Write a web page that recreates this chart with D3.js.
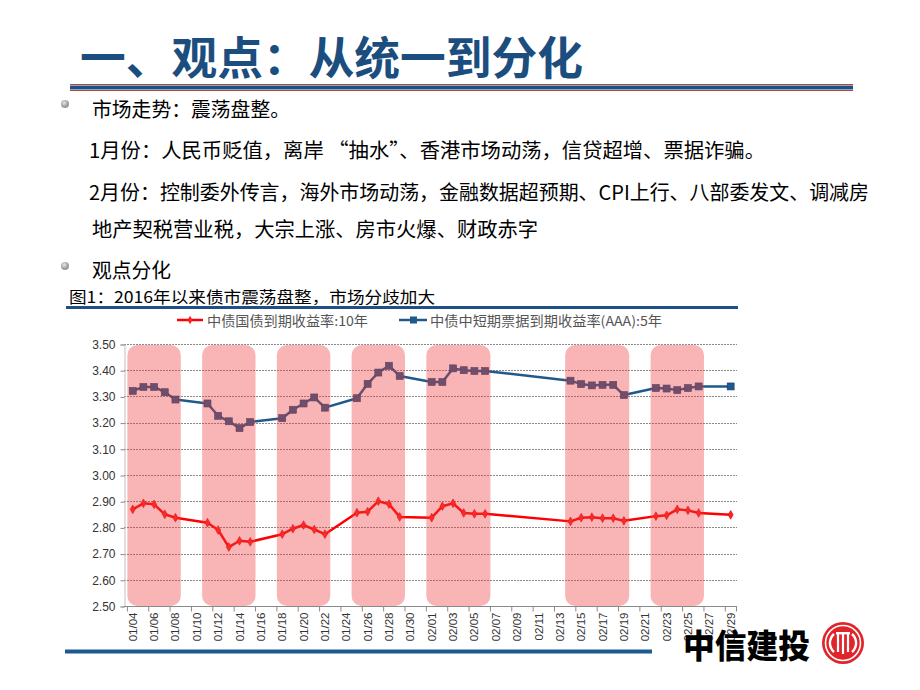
<!DOCTYPE html>
<html><head><meta charset="utf-8">
<script src="https://cdn.jsdelivr.net/npm/d3@7/dist/d3.min.js"></script>
<style>body{margin:0;background:#fff}svg{display:block}</style>
</head><body>
<svg id="c" width="920" height="690"></svg>
<script>
// ---------------- data ----------------
const titleText = "一、观点：从统一到分化";
const bullet1 = "市场走势：震荡盘整。";
const lineJan = "1月份：人民币贬值，离岸 “抽水”、香港市场动荡，信贷超增、票据诈骗。";
const lineFeb1 = "2月份：控制委外传言，海外市场动荡，金融数据超预期、CPI上行、八部委发文、调减房";
const lineFeb2 = "地产契税营业税，大宗上涨、房市火爆、财政赤字";
const bullet2 = "观点分化";
const captionText = "图1：2016年以来债市震荡盘整，市场分歧加大";
const seriesNames = ["中债国债到期收益率:10年", "中债中短期票据到期收益率(AAA):5年"];
const logoText = "中信建投";

const tradeDates = [
  "2016-01-04","2016-01-05","2016-01-06","2016-01-07","2016-01-08",
  "2016-01-11","2016-01-12","2016-01-13","2016-01-14","2016-01-15",
  "2016-01-18","2016-01-19","2016-01-20","2016-01-21","2016-01-22",
  "2016-01-25","2016-01-26","2016-01-27","2016-01-28","2016-01-29",
  "2016-02-01","2016-02-02","2016-02-03","2016-02-04","2016-02-05","2016-02-06",
  "2016-02-14","2016-02-15","2016-02-16","2016-02-17","2016-02-18","2016-02-19",
  "2016-02-22","2016-02-23","2016-02-24","2016-02-25","2016-02-26",
  "2016-02-29"
];
const yield10y = [
  2.869, 2.892, 2.888, 2.850, 2.837,
  2.818, 2.790, 2.725, 2.749, 2.745,
  2.774, 2.795, 2.809, 2.792, 2.774,
  2.856, 2.860, 2.900, 2.889, 2.840,
  2.837, 2.881, 2.892, 2.855, 2.852, 2.852,
  2.823, 2.837, 2.839, 2.835, 2.835, 2.825,
  2.843, 2.846, 2.869, 2.865, 2.855,
  2.848
];
const yieldMtn5y = [
  3.321, 3.336, 3.336, 3.316, 3.288,
  3.273, 3.226, 3.205, 3.179, 3.202,
  3.217, 3.249, 3.273, 3.296, 3.257,
  3.293, 3.348, 3.391, 3.417, 3.378,
  3.355, 3.355, 3.407, 3.400, 3.397, 3.397,
  3.360, 3.347, 3.342, 3.344, 3.344, 3.305,
  3.332, 3.330, 3.324, 3.332, 3.338,
  3.338
];
const yTicks = [2.50, 2.60, 2.70, 2.80, 2.90, 3.00, 3.10, 3.20, 3.30, 3.40, 3.50];
const axisStart = "2016-01-04", axisEnd = "2016-02-29";
const highlightWeeks = [
  ["2016-01-04","2016-01-08"], ["2016-01-11","2016-01-15"], ["2016-01-18","2016-01-22"],
  ["2016-01-25","2016-01-29"], ["2016-02-01","2016-02-06"], ["2016-02-14","2016-02-19"],
  ["2016-02-22","2016-02-26"]
];

// ---------------- drawing ----------------
const svg = d3.select("#c");
const CJK = "'Noto Sans CJK SC','Noto Sans',sans-serif";
const LAT = "'Liberation Sans',Arial,sans-serif";
svg.append("rect").attr("width",920).attr("height",690).attr("fill","#fff");

// title
svg.append("text").attr("x",80).attr("y",55).attr("dominant-baseline","central")
  .attr("font-family",CJK).attr("font-weight",700).attr("font-size",45)
  .attr("fill","#1b4e7e").attr("textLength",503).attr("lengthAdjust","spacingAndGlyphs")
  .text(titleText);
// separator
svg.append("line").attr("x1",70).attr("x2",853).attr("y1",84.5).attr("y2",84.5).attr("stroke","#b0463c").attr("stroke-width",1);
svg.append("line").attr("x1",70).attr("x2",853).attr("y1",87.5).attr("y2",87.5).attr("stroke","#1b5186").attr("stroke-width",4);
svg.append("line").attr("x1",70).attr("x2",853).attr("y1",90.5).attr("y2",90.5).attr("stroke","#b0463c").attr("stroke-width",1);

// bullets
const grad = svg.append("defs").append("radialGradient").attr("id","bg").attr("cx","40%").attr("cy","35%");
grad.append("stop").attr("offset","0%").attr("stop-color","#e8e8e8");
grad.append("stop").attr("offset","100%").attr("stop-color","#9a9a9a");
[[65,104],[65,266]].forEach(p=>svg.append("circle").attr("cx",p[0]).attr("cy",p[1]).attr("r",4).attr("fill","url(#bg)"));

const body = [
  {t:bullet1, x:92, y:108, w:198},
  {t:lineJan, x:89, y:149, w:676},
  {t:lineFeb1, x:89, y:191, w:780},
  {t:lineFeb2, x:92, y:228, w:446},
  {t:bullet2, x:92, y:269, w:79}
];
body.forEach(b=>svg.append("text").attr("x",b.x).attr("y",b.y).attr("dominant-baseline","central")
  .attr("font-family",CJK).attr("font-size",20).attr("fill","#000")
  .attr("textLength",b.w).attr("lengthAdjust","spacingAndGlyphs").text(b.t));

// caption
svg.append("text").attr("x",69).attr("y",295.5).attr("dominant-baseline","central")
  .attr("font-family",CJK).attr("font-size",16).attr("fill","#000")
  .attr("textLength",366).attr("lengthAdjust","spacingAndGlyphs").text(captionText);
svg.append("line").attr("x1",66).attr("x2",738).attr("y1",307.5).attr("y2",307.5).attr("stroke","#1e4f86").attr("stroke-width",3);

// scales
const parse = d3.timeParse("%Y-%m-%d");
const key = d3.timeFormat("%Y-%m-%d");
const lab = d3.timeFormat("%m/%d");
const days = d3.timeDay.range(parse(axisStart), d3.timeDay.offset(parse(axisEnd),1));
const x = d3.scaleBand().domain(days.map(key)).range([127.4, 736]).padding(0);
const bw = x.bandwidth();
const y = d3.scaleLinear().domain([2.5, 3.5]).range([606, 344]);
const plotL = 124, plotR = 737;

// gridlines
const g = svg.append("g");
g.selectAll("line.grid").data(yTicks.slice(1)).join("line")
  .attr("x1",plotL).attr("x2",plotR).attr("y1",d=>Math.round(y(d))+0.5).attr("y2",d=>Math.round(y(d))+0.5)
  .attr("stroke","#8a8a8a").attr("stroke-width",1).attr("stroke-dasharray","2,1");

// y axis
const yAxis = d3.axisLeft(y).tickValues(yTicks).tickFormat(d3.format(".2f")).tickSize(4).tickPadding(5);
const ya = svg.append("g").attr("transform",`translate(${plotL+0.5},0.5)`).call(yAxis);
ya.select(".domain").attr("stroke","#c0c0c0");
ya.selectAll(".tick line").attr("stroke","#8a8a8a");
ya.selectAll("text").attr("font-family",LAT).attr("font-size",12).attr("fill","#333");

// x axis
const labelDays = days.filter((d,i)=>i%2===0).map(key);
const xAxis = d3.axisBottom(x).tickValues(labelDays).tickFormat(k=>lab(parse(k))).tickSize(0);
const xa = svg.append("g").attr("transform",`translate(0,${Math.round(y(2.5))+0.5})`).call(xAxis);
xa.select(".domain").remove();
xa.append("line").attr("x1",plotL).attr("x2",plotR).attr("stroke","#8a8a8a");
xa.selectAll(".tick text").attr("font-family",LAT).attr("font-size",11.5).attr("fill","#333")
  .attr("transform","translate(0,6) rotate(-90)").attr("text-anchor","end").attr("dy","0.35em").attr("x",0).attr("y",0);
xa.selectAll(".tick").append("line").attr("x1",-bw/2).attr("x2",-bw/2).attr("y1",0).attr("y2",5).attr("stroke","#8a8a8a");
xa.append("line").attr("x1",plotR-0.5).attr("x2",plotR-0.5).attr("y1",0).attr("y2",5).attr("stroke","#8a8a8a");

// series
const cx = k => x(k) + bw/2;
const red = "#ff0000", blue = "#1f5a8c";
const line = vals => d3.line().x((d,i)=>cx(tradeDates[i])).y(d=>y(d))(vals);
svg.append("path").attr("d",line(yieldMtn5y)).attr("fill","none").attr("stroke",blue).attr("stroke-width",2.5).attr("stroke-linejoin","round");
svg.append("path").attr("d",line(yield10y)).attr("fill","none").attr("stroke",red).attr("stroke-width",2.5).attr("stroke-linejoin","round");
svg.selectAll("rect.sq").data(yieldMtn5y).join("rect").attr("class","sq")
  .attr("x",(d,i)=>cx(tradeDates[i])-3.5).attr("y",d=>y(d)-3.5).attr("width",7).attr("height",7)
  .attr("fill",blue).attr("stroke","#1a3f6a").attr("stroke-width",0.6);
const diamond = d3.symbol().type(d3.symbolDiamond).size(22);
svg.selectAll("path.dm").data(yield10y).join("path").attr("class","dm")
  .attr("d",diamond).attr("transform",(d,i)=>`translate(${cx(tradeDates[i])},${y(d)})`)
  .attr("fill","#ff2020").attr("stroke","#e00000").attr("stroke-width",0.6);

// highlight bands (translucent overlay)
svg.selectAll("rect.band").data(highlightWeeks).join("rect").attr("class","band")
  .attr("x",d=>x(d[0])).attr("width",d=>x(d[1])+bw-x(d[0]))
  .attr("y",y(3.5)+1).attr("height",y(2.5)-y(3.5)-1)
  .attr("rx",10).attr("ry",10)
  .attr("fill","#f03c3c").attr("opacity",0.38);

// legend
const lg = svg.append("g");
lg.append("line").attr("x1",177).attr("x2",203).attr("y1",320).attr("y2",320).attr("stroke",red).attr("stroke-width",2.5);
lg.append("path").attr("d",diamond).attr("transform","translate(190,320)").attr("fill","#ff2020");
lg.append("text").attr("x",207).attr("y",320).attr("dominant-baseline","central").attr("font-family",CJK)
  .attr("font-size",13.5).attr("fill","#555").attr("textLength",161).attr("lengthAdjust","spacingAndGlyphs").text(seriesNames[0]);
lg.append("line").attr("x1",399).attr("x2",427).attr("y1",320).attr("y2",320).attr("stroke",blue).attr("stroke-width",2.5);
lg.append("rect").attr("x",410).attr("y",316.5).attr("width",7).attr("height",7).attr("fill",blue);
lg.append("text").attr("x",430).attr("y",320).attr("dominant-baseline","central").attr("font-family",CJK)
  .attr("font-size",13.5).attr("fill","#555").attr("textLength",232).attr("lengthAdjust","spacingAndGlyphs").text(seriesNames[1]);

// bottom rule
svg.append("line").attr("x1",65).attr("x2",652).attr("y1",651.5).attr("y2",651.5).attr("stroke","#1d5a92").attr("stroke-width",4);

// logo
svg.append("text").attr("x",683).attr("y",644).attr("dominant-baseline","central")
  .attr("font-family",CJK).attr("font-weight",900).attr("font-size",33).attr("fill","#000")
  .attr("textLength",127).attr("lengthAdjust","spacingAndGlyphs").text(logoText);
const lo = svg.append("g").attr("transform","translate(843,643)");
lo.append("circle").attr("r",21).attr("fill","#e0242a");
lo.append("circle").attr("r",17.5).attr("fill","none").attr("stroke","#fff").attr("stroke-width",1.6);
lo.append("path").attr("d","M-9,-9 A12,12 0 0 0 -9,9").attr("fill","none").attr("stroke","#fff").attr("stroke-width",2.4);
lo.append("path").attr("d","M9,-9 A12,12 0 0 1 9,9").attr("fill","none").attr("stroke","#fff").attr("stroke-width",2.4);
lo.append("rect").attr("x",-7).attr("y",-11).attr("width",14).attr("height",2.4).attr("fill","#fff");
[-5,0,5].forEach(v=>lo.append("rect").attr("x",v-1.1).attr("y",-10).attr("width",2.2).attr("height",v===0?21:19).attr("fill","#fff"));
</script>
</body></html>
